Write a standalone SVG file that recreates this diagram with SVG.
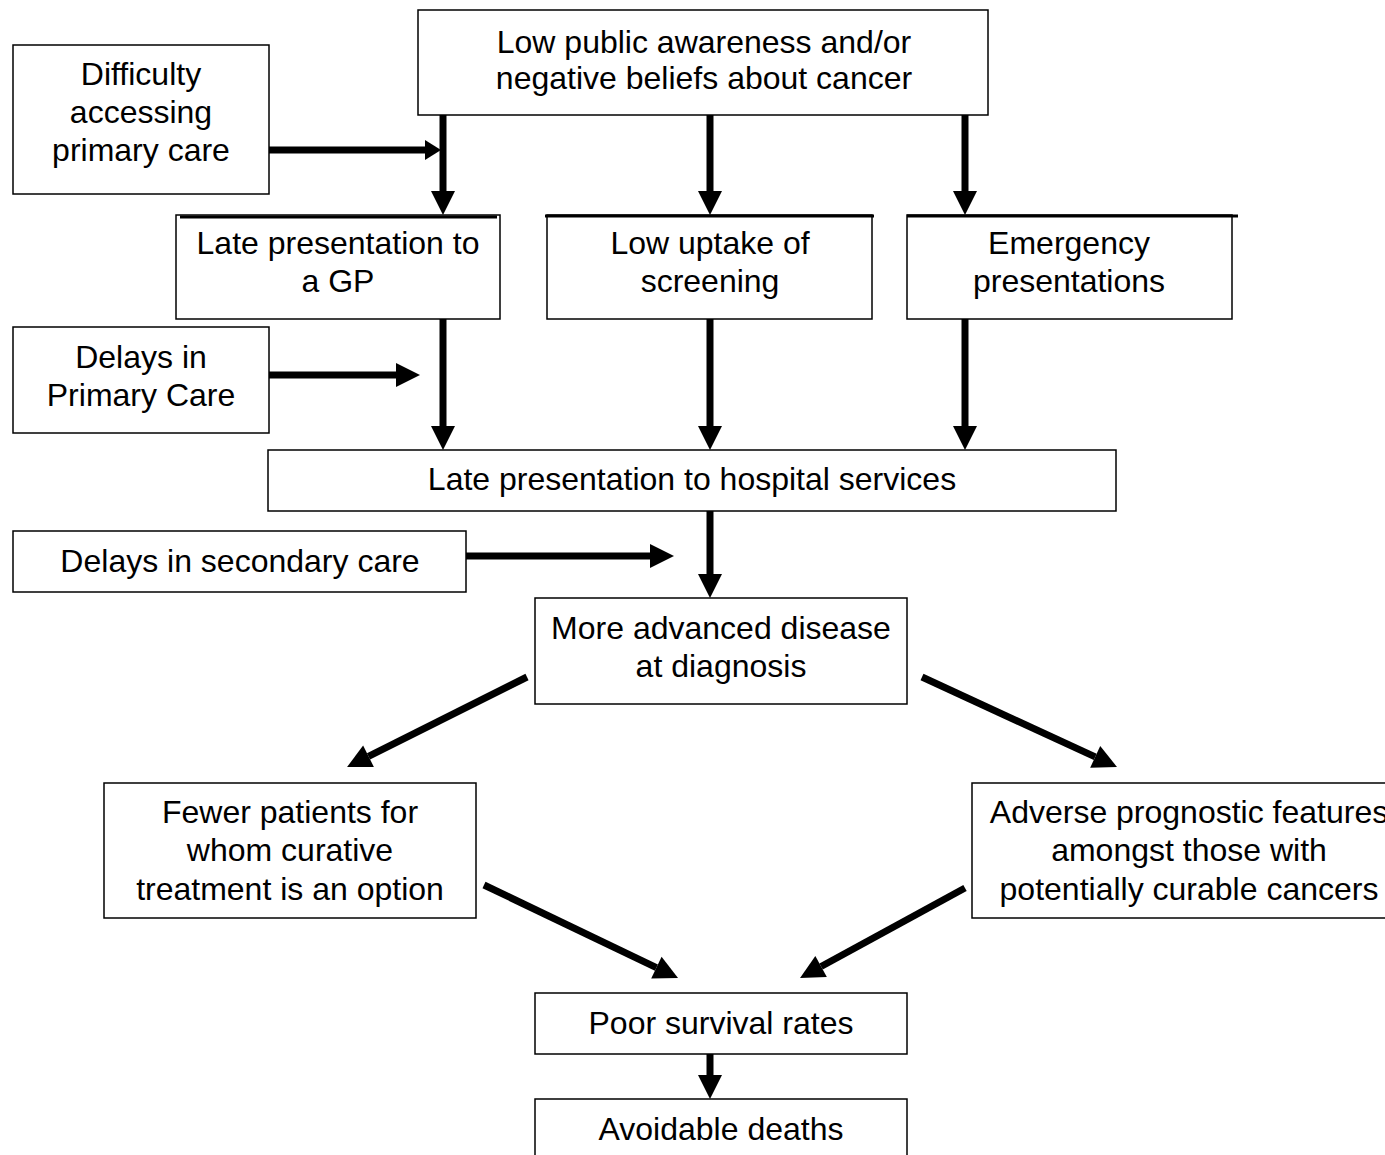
<svg xmlns="http://www.w3.org/2000/svg" width="1385" height="1155" viewBox="0 0 1385 1155">
<style>
.box{fill:#fff;stroke:#000;stroke-width:1.5}
.t{font-family:"Liberation Sans",Arial,sans-serif;font-size:32px;fill:#000;text-anchor:middle}
.c{stroke:#000;stroke-width:7;fill:none}
.bar{stroke:#000;stroke-width:3}
</style>
<defs>
<marker id="ah" markerUnits="userSpaceOnUse" markerWidth="26" markerHeight="26" viewBox="0 -13 26 26" refX="0" refY="0" orient="auto" overflow="visible">
<path d="M0,-12 L24,0 L0,12 Z" fill="#000"/>
</marker>
<marker id="ahs" markerUnits="userSpaceOnUse" markerWidth="20" markerHeight="22" viewBox="0 -11 20 22" refX="0" refY="0" orient="auto" overflow="visible">
<path d="M0,-10 L16,0 L0,10 Z" fill="#000"/>
</marker>
</defs>
<rect width="1385" height="1155" fill="#fff"/>
<g id="connectors">
<line class="c" x1="443" y1="115" x2="443" y2="191" marker-end="url(#ah)"/>
<line class="c" x1="710" y1="115" x2="710" y2="191" marker-end="url(#ah)"/>
<line class="c" x1="965" y1="115" x2="965" y2="191" marker-end="url(#ah)"/>
<line class="c" x1="269" y1="150" x2="425" y2="150" marker-end="url(#ahs)"/>
<line class="c" x1="443" y1="315" x2="443" y2="426" marker-end="url(#ah)"/>
<line class="c" x1="710" y1="317" x2="710" y2="426" marker-end="url(#ah)"/>
<line class="c" x1="965" y1="317" x2="965" y2="426" marker-end="url(#ah)"/>
<line class="c" x1="269" y1="375" x2="396" y2="375" marker-end="url(#ah)"/>
<line class="c" x1="710" y1="511" x2="710" y2="574" marker-end="url(#ah)"/>
<line class="c" x1="466" y1="556" x2="650" y2="556" marker-end="url(#ah)"/>
<line class="c" x1="527" y1="677" x2="368.5" y2="756.3" marker-end="url(#ah)"/>
<line class="c" x1="922" y1="677" x2="1095.2" y2="756.9" marker-end="url(#ah)"/>
<line class="c" x1="484" y1="885" x2="656.4" y2="967.6" marker-end="url(#ah)"/>
<line class="c" x1="965" y1="888" x2="821.1" y2="966.5" marker-end="url(#ah)"/>
<line class="c" x1="710" y1="1054" x2="710" y2="1075" marker-end="url(#ah)"/>
</g>
<g id="n-awareness">
<rect class="box" x="418" y="10" width="570" height="105"/>
<text class="t" x="704" y="53">Low public awareness and/or</text>
<text class="t" x="704" y="89">negative beliefs about cancer</text>
</g>
<g id="n-difficulty">
<rect class="box" x="13" y="45" width="256" height="149"/>
<text class="t" x="141" y="85">Difficulty</text>
<text class="t" x="141" y="123">accessing</text>
<text class="t" x="141" y="161">primary care</text>
</g>
<g id="n-gp">
<rect class="box" x="176" y="215" width="324" height="104"/>
<line class="bar" x1="180" y1="217" x2="497" y2="217"/>
<text class="t" x="338" y="254">Late presentation to</text>
<text class="t" x="338" y="292">a GP</text>
</g>
<g id="n-screening">
<rect class="box" x="547" y="215" width="325" height="104"/>
<line class="bar" x1="545" y1="216" x2="874" y2="216"/>
<text class="t" x="710" y="254">Low uptake of</text>
<text class="t" x="710" y="292">screening</text>
</g>
<g id="n-emergency">
<rect class="box" x="907" y="215" width="325" height="104"/>
<line class="bar" x1="907" y1="216" x2="1238" y2="216"/>
<text class="t" x="1069" y="254">Emergency</text>
<text class="t" x="1069" y="292">presentations</text>
</g>
<g id="n-delays-primary">
<rect class="box" x="13" y="327" width="256" height="106"/>
<text class="t" x="141" y="368">Delays in</text>
<text class="t" x="141" y="406">Primary Care</text>
</g>
<g id="n-hospital">
<rect class="box" x="268" y="450" width="848" height="61"/>
<text class="t" x="692" y="490">Late presentation to hospital services</text>
</g>
<g id="n-delays-secondary">
<rect class="box" x="13" y="531" width="453" height="61"/>
<text class="t" x="240" y="572">Delays in secondary care</text>
</g>
<g id="n-advanced">
<rect class="box" x="535" y="598" width="372" height="106"/>
<text class="t" x="721" y="639">More advanced disease</text>
<text class="t" x="721" y="677">at diagnosis</text>
</g>
<g id="n-fewer">
<rect class="box" x="104" y="783" width="372" height="135"/>
<text class="t" x="290" y="823">Fewer patients for</text>
<text class="t" x="290" y="861">whom curative</text>
<text class="t" x="290" y="900">treatment is an option</text>
</g>
<g id="n-adverse">
<rect class="box" x="972" y="783" width="440" height="135"/>
<text class="t" x="1189" y="823">Adverse prognostic features</text>
<text class="t" x="1189" y="861">amongst those with</text>
<text class="t" x="1189" y="900">potentially curable cancers</text>
</g>
<g id="n-poor">
<rect class="box" x="535" y="993" width="372" height="61"/>
<text class="t" x="721" y="1034">Poor survival rates</text>
</g>
<g id="n-avoidable">
<rect class="box" x="535" y="1099" width="372" height="80"/>
<text class="t" x="721" y="1140">Avoidable deaths</text>
</g>
</svg>
